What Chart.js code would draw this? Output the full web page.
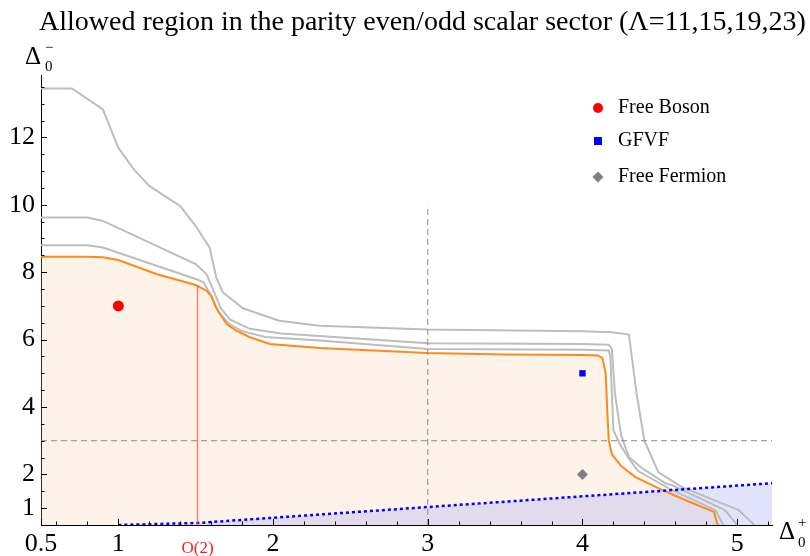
<!DOCTYPE html>
<html><head><meta charset="utf-8">
<script src="https://cdn.jsdelivr.net/npm/chart.js@4/dist/chart.umd.min.js"></script>
<style>html,body{margin:0;padding:0;background:#fff}#wrap{width:810px;height:556px}</style>
</head><body><div id="wrap"><canvas id="c" width="810" height="556"></canvas></div>
<script>
// ---- data ----
const titleText = "Allowed region in the parity even/odd scalar sector (\u039B=11,15,19,23)";
const lambda11 = [[0.5,13.45],[0.7,13.45],[0.9,12.83],[1.0,11.69],[1.1,11.05],[1.2,10.56],[1.4,9.96],[1.5,9.37],[1.59,8.73],[1.633,7.84],[1.676,7.4],[1.805,6.93],[2.04,6.56],[2.3,6.41],[3.0,6.30],[4.0,6.25],[4.19,6.22],[4.30,6.15],[4.35,4.39],[4.40,3.01],[4.49,2.07],[4.64,1.63],[5.01,0.94],[5.10,0.55],[5.11,0.5]];
const lambda15 = [[0.5,9.62],[0.8,9.62],[0.9,9.52],[1.5,8.24],[1.57,7.94],[1.62,7.4],[1.66,6.95],[1.72,6.6],[1.85,6.32],[2.05,6.18],[2.3,6.11],[3.0,5.89],[4.0,5.87],[4.17,5.85],[4.19,5.72],[4.21,4.39],[4.25,3.16],[4.30,2.52],[4.39,2.17],[4.54,1.73],[4.58,1.68],[4.92,0.94],[5.0,0.5]];
const lambda19 = [[0.5,8.80],[0.8,8.80],[0.9,8.73],[1.5,7.80],[1.55,7.70],[1.6,7.3],[1.65,6.8],[1.72,6.45],[1.8,6.25],[1.95,6.08],[2.3,5.97],[3.0,5.72],[4.0,5.70],[4.17,5.68],[4.18,5.5],[4.20,3.31],[4.24,2.91],[4.30,2.47],[4.36,2.1],[4.56,1.58],[4.86,0.94],[4.91,0.5]];
const lambda23 = [[0.5,8.46],[0.8,8.46],[0.9,8.44],[1.0,8.36],[1.25,7.94],[1.5,7.62],[1.57,7.45],[1.6,7.3],[1.63,6.96],[1.70,6.46],[1.76,6.27],[1.85,6.07],[1.98,5.87],[2.3,5.75],[3.0,5.60],[3.5,5.56],[4.0,5.54],[4.1,5.53],[4.13,5.45],[4.15,5.0],[4.16,3.9],[4.17,3.01],[4.19,2.6],[4.25,2.25],[4.34,1.93],[4.52,1.53],[4.69,1.19],[4.85,0.89],[4.87,0.55],[4.88,0.5]];
const unitarityLine = [[1.0,0.5],[1.5117,0.56],[5.225,1.74]];
const o2Line = [[1.5117,0.5],[1.5117,7.6]];
const vDashed = [[3,0.5],[3,10]];
const hDashed = [[0.5,3],[5.225,3]];
const freeBoson = [[1,7]];
const gfvf = [[4,5]];
const freeFermion = [[4,2]];
const xTickValues = [0.5,1,1.5117,2,3,4,5];
const xTickLabels = ["0.5","1","O(2)","2","3","4","5"];
const xMinorTicks = [0.6,0.8,1.2,1.4,1.6,1.8,2.2,2.4,2.6,2.8,3.2,3.4,3.6,3.8,4.2,4.4,4.6,4.8,5.2];
const yTickValues = [1,2,4,6,8,10,12];
const yTickLabels = ["1","2","4","6","8","10","12"];
const yMinorTicks = [1.5,2.5,3,3.5,4.5,5,5.5,6.5,7,7.5,8.5,9,9.5,10.5,11,11.5,12.5,13,13.5];
const legendNames = ["Free Boson","GFVF","Free Fermion"];

const pts = a => a.map(p => ({x:p[0], y:p[1]}));
const SERIF = '"Liberation Serif","Times New Roman",serif';

const tickPlugin = {
  id:'inwardTicks',
  afterDatasetsDraw(chart){
    const {ctx, scales:{x,y}, chartArea:ca} = chart;
    ctx.save();
    ctx.strokeStyle = '#000'; ctx.lineWidth = 1;
    ctx.beginPath();
    xTickValues.forEach((v,i)=>{ if(i===2) return; const px=Math.round(x.getPixelForValue(v))+0.5; ctx.moveTo(px,ca.bottom); ctx.lineTo(px,ca.bottom-6);});
    xMinorTicks.forEach(v=>{ const px=Math.round(x.getPixelForValue(v))+0.5; ctx.moveTo(px,ca.bottom); ctx.lineTo(px,ca.bottom-3.5);});
    yTickValues.forEach(v=>{ const py=Math.round(y.getPixelForValue(v))+0.5; ctx.moveTo(ca.left,py); ctx.lineTo(ca.left+6,py);});
    yMinorTicks.forEach(v=>{ const py=Math.round(y.getPixelForValue(v))+0.5; ctx.moveTo(ca.left,py); ctx.lineTo(ca.left+3.5,py);});
    ctx.stroke();
    ctx.restore();
  }
};

const textPlugin = {
  id:'texts',
  afterDraw(chart){
    const ctx = chart.ctx;
    ctx.save();
    ctx.fillStyle = '#000';
    ctx.textBaseline = 'alphabetic';
    ctx.textAlign = 'left';
    ctx.font = '28px ' + SERIF;
    ctx.fillText(titleText, 39, 30);
    // y axis title
    ctx.font = '25px ' + SERIF;
    ctx.fillText('\u0394', 25, 64);
    ctx.font = '15px ' + SERIF;
    ctx.fillText('0', 45, 71);
    ctx.fillText('\u2212', 45, 52);
    // x axis title
    ctx.font = '25px ' + SERIF;
    ctx.fillText('\u0394', 779, 539);
    ctx.font = '15px ' + SERIF;
    ctx.fillText('0', 798, 547);
    ctx.fillText('+', 798, 527);
    // legend
    const lx = 598;
    const rows = [108, 141, 177];
    ctx.fillStyle = '#ff0000';
    ctx.beginPath(); ctx.arc(lx, rows[0], 5, 0, Math.PI*2); ctx.fill();
    ctx.fillStyle = '#0000ff';
    ctx.fillRect(lx-4, rows[1]-4, 8, 8);
    ctx.fillStyle = '#808080';
    ctx.beginPath(); ctx.moveTo(lx, rows[2]-5.5); ctx.lineTo(lx+5.5, rows[2]); ctx.lineTo(lx, rows[2]+5.5); ctx.lineTo(lx-5.5, rows[2]); ctx.closePath(); ctx.fill();
    ctx.fillStyle = '#000';
    ctx.font = '20px ' + SERIF;
    ctx.textBaseline = 'middle';
    legendNames.forEach((n,i)=> ctx.fillText(n, 618, rows[i]));
    ctx.restore();
  }
};

const lineDS = (label, data, color, width, order, extra) => Object.assign({
  type:'line', label, data: pts(data), borderColor: color, borderWidth: width,
  pointRadius: 0, tension: 0, fill: false, order
}, extra || {});

new Chart(document.getElementById('c'), {
  type: 'line',
  data: { datasets: [
    {type:'scatter', label:legendNames[0], data: pts(freeBoson), pointStyle:'circle', pointRadius:5.5, backgroundColor:'#ff0000', borderWidth:0, order:0},
    {type:'scatter', label:legendNames[1], data: pts(gfvf), pointStyle:'rect', pointRadius:4.5, backgroundColor:'#0000ff', borderWidth:0, order:0},
    {type:'scatter', label:legendNames[2], data: pts(freeFermion), pointStyle:'rectRot', pointRadius:5.5, backgroundColor:'#808080', borderWidth:0, order:0},
    lineDS('O(2)', o2Line, 'rgba(240,90,90,0.75)', 1.5, 1),
    lineDS('vdash', vDashed, '#8a8a8a', 1, 2, {borderDash:[6,4]}),
    lineDS('hdash', hDashed, '#8a8a8a', 1, 2, {borderDash:[6,4]}),
    lineDS('unitarity', unitarityLine, '#0000ff', 2.5, 3, {borderDash:[3,3], fill:'start', backgroundColor:'rgba(110,120,250,0.2)'}),
    lineDS('\u039B=23', lambda23, '#ff8a1a', 2, 4, {fill:'start', backgroundColor:'rgba(250,200,150,0.22)'}),
    lineDS('\u039B=19', lambda19, '#bdbdbd', 2, 5),
    lineDS('\u039B=15', lambda15, '#bdbdbd', 2, 5),
    lineDS('\u039B=11', lambda11, '#bdbdbd', 2, 5)
  ]},
  options: {
    responsive: false, animation: false, devicePixelRatio: 1,
    layout: { padding: { top: 75, right: 38, left: 0, bottom: 0 } },
    plugins: { legend:{display:false}, tooltip:{enabled:false}, title:{display:false}, filler:{drawTime:'beforeDatasetsDraw'} },
    scales: {
      x: { type:'linear', min:0.5, max:5.225,
        afterFit(s){ s.height = 31; },
        afterBuildTicks(s){ s.ticks = xTickValues.map(v=>({value:v})); },
        grid:{ display:true, drawOnChartArea:false, drawTicks:false },
        border:{ display:true, color:'#000', width:1 },
        ticks:{ autoSkip:false, maxRotation:0, padding:4,
          callback:(v,i)=> xTickLabels[i],
          color: c => c.index===2 ? '#ff2020' : '#000',
          font: c => c.index===2 ? { family: SERIF, size: 17, lineHeight: 2.3 } : { family: SERIF, size: 26, lineHeight: 1.2 } }
      },
      y: { type:'linear', min:0.5, max:13.85,
        afterFit(s){ s.width = 41; },
        afterBuildTicks(s){ s.ticks = yTickValues.map(v=>({value:v})); },
        grid:{ display:true, drawOnChartArea:false, drawTicks:false },
        border:{ display:true, color:'#000', width:1 },
        ticks:{ autoSkip:false, padding:6,
          callback:(v,i)=> yTickLabels[i],
          color:'#000', font:{ family: SERIF, size: 26 } }
      }
    }
  },
  plugins: [tickPlugin, textPlugin]
});
</script>
</body></html>
